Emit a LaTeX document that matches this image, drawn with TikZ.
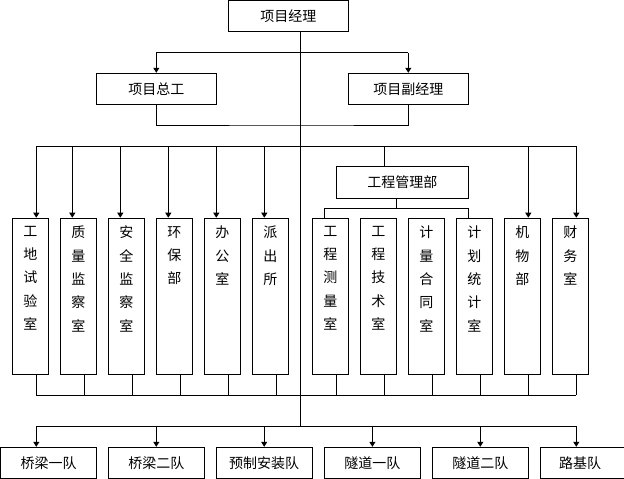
\documentclass[tikz,border=0pt]{standalone}
\usepackage{fontspec}
\newfontfamily\cjk{Noto Sans CJK SC}
\usetikzlibrary{arrows.meta}
\newcommand\vtext[1]{\parbox[c][156pt][t]{16pt}{\fontsize{14}{23.3}\selectfont\centering\vspace*{8pt}#1\par}}
\begin{document}
\begin{tikzpicture}[x=1pt,y=-1pt,line width=1pt,
  box/.style={draw,inner sep=0pt,font=\cjk\fontsize{14}{16}\selectfont},
  hbox/.style={box,minimum height=31pt},
  vbox/.style={box,minimum width=36pt,minimum height=156pt},
  arr/.style={-{Triangle[width=6pt,length=5pt]}}]
\useasboundingbox (0,0) rectangle (624,479);
% top levels
\node[hbox,minimum width=120pt] (pm) at (288.3,15.8) {项目经理};
\node[hbox,minimum width=120pt] (zg) at (156.3,88.8) {项目总工};
\node[hbox,minimum width=120pt] (fj) at (408.3,88.8) {项目副经理};
\node[box,minimum width=132pt,minimum height=32pt] (gc) at (402.3,182.3) {工程管理部};
% vertical boxes
\foreach \n/\x/\t in {L1/30.3/工\\地\\试\\验\\室, L2/78.3/质\\量\\监\\察\\室, L3/126.3/安\\全\\监\\察\\室,
  L4/174.3/环\\保\\部, L5/222.3/办\\公\\室, L6/270.3/派\\出\\所,
  R1/330.3/工\\程\\测\\量\\室, R2/378.3/工\\程\\技\\术\\室, R3/426.3/计\\量\\合\\同\\室,
  R4/474.3/计\\划\\统\\计\\室, R5/522.3/机\\物\\部, R6/570.3/财\\务\\室}
  {\node[vbox] (\n) at (\x,296.2) {\vtext{\t}};}
% bottom teams
\node[hbox,minimum width=96pt] (B1) at (48.6,462.8) {桥梁一队};
\node[hbox,minimum width=96pt] (B2) at (156.3,462.8) {桥梁二队};
\node[hbox,minimum width=96pt] (B3) at (264.2,462.8) {预制安装队};
\node[hbox,minimum width=96pt] (B4) at (372.4,462.8) {隧道一队};
\node[hbox,minimum width=96pt] (B5) at (480.3,462.8) {隧道二队};
\node[hbox,minimum width=90pt] (B6) at (585.7,462.8) {\hspace*{-11pt}路基队};
% junction levels
\coordinate (ya) at (300.3,52.7);
\coordinate (yb) at (300.3,125);
\coordinate (yc) at (300.3,146);
\coordinate (yd) at (300.3,208.3);
\coordinate (ye) at (300.3,395.3);
\coordinate (yf) at (300.3,426);
% central trunk
\draw (pm.south -| ya) -- (yf);
% to 总工 / 副经理
\draw (ya -| zg.north) -- (ya -| fj.north);
\draw[arr] (ya -| zg.north) -- (zg.north);
\draw[arr] (ya -| fj.north) -- (fj.north);
\draw (zg.south) |- (yb) -| (fj.south);
% drop points on top of vertical boxes
\foreach \n/\d in {L1/6,L2/-6,L3/-6,L4/-6,L5/-6,L6/-6,R5/6,R6/6}
  {\coordinate (t\n) at ([xshift=\d pt]\n.north);
   \draw[arr] (t\n |- yc) -- (t\n);}
\draw (tL1 |- yc) -- (tR6 |- yc);
% 工程管理部
\coordinate (gin) at ([xshift=-18pt]gc.north);
\coordinate (gout) at ([xshift=-6pt]gc.south);
\coordinate (tR1) at ([xshift=-6pt]R1.north);
\coordinate (tR4) at ([xshift=-6pt]R4.north);
\draw (gin |- yc) -- (gin);
\draw (gout) -- (gout |- yd);
\draw (tR1) -- (tR1 |- yd) -- (tR4 |- yd) -- (tR4);
% bottoms of vertical boxes
\foreach \n in {L1,L2,L3,L4,L5,L6,R1,R2,R3,R4,R5,R6}
  {\coordinate (b\n) at ([xshift=6pt]\n.south);
   \draw (b\n) -- (b\n |- ye);}
\draw (bL1 |- ye) -- (bR6 |- ye);
% to teams
\coordinate (d1) at (bL1 |- B1.north);
\coordinate (d6) at (bR6 |- B6.north);
\draw (d1 |- yf) -- (d6 |- yf);
\draw[arr] (d1 |- yf) -- (d1);
\draw[arr] (B2.north |- yf) -- (B2.north);
\draw[arr] (B3.north |- yf) -- (B3.north);
\draw[arr] (B4.north |- yf) -- (B4.north);
\draw[arr] (B5.north |- yf) -- (B5.north);
\draw[arr] (d6 |- yf) -- (d6);
\end{tikzpicture}
\end{document}
